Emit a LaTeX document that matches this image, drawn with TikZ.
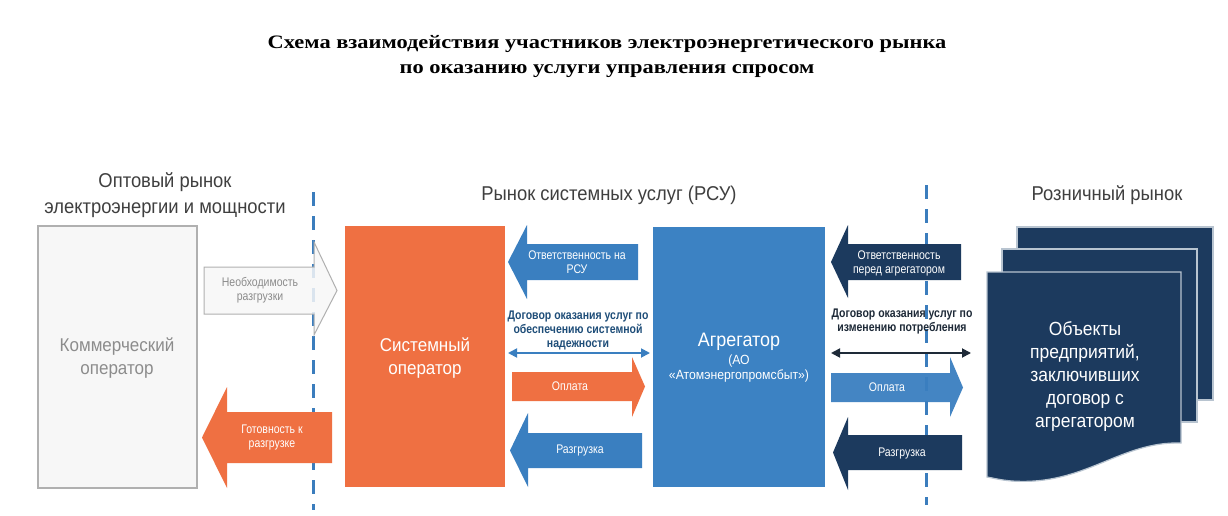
\documentclass[tikz,border=0pt]{standalone}
\usepackage{fontspec}
\setmainfont{Liberation Sans}
\newfontfamily\narrowfont[FakeStretch=0.84]{Liberation Sans}
\newfontfamily\midfont[FakeStretch=0.92]{Liberation Sans}
\newfontfamily\titlefont[FakeStretch=1.18]{Liberation Serif}
\usetikzlibrary{arrows.meta}
\definecolor{orng}{HTML}{EF7042}
\definecolor{bluebox}{HTML}{3C82C3}
\definecolor{bluearr}{HTML}{3A7FC0}
\definecolor{navy}{HTML}{1C3A5E}
\definecolor{dashblue}{HTML}{3B7DBD}
\definecolor{headgray}{HTML}{3F3F3F}
\definecolor{kogray}{HTML}{8C8C8C}
\definecolor{kofill}{HTML}{F7F7F7}
\definecolor{koline}{HTML}{B0B0B0}
\definecolor{docline}{HTML}{B8C4D0}
\definecolor{dogblue}{HTML}{1F4E79}
\definecolor{dognavy}{HTML}{1E2A38}
\tikzset{
  lbl/.style={font=\narrowfont\fontsize{12.5}{14}\selectfont, align=center, text=white, inner sep=0pt},
  head/.style={font=\midfont\fontsize{20}{26}\selectfont, align=center, text=headgray, inner sep=0pt},
  boxtxt/.style={font=\midfont\fontsize{18.5}{23}\selectfont, align=center, text=white, inner sep=0pt},
  dogtxt/.style={font=\narrowfont\bfseries\fontsize{12.5}{14}\selectfont, align=center, inner sep=0pt},
  sep/.style={draw=dashblue, line width=3pt, dash pattern=on 14pt off 10pt},
  dbl/.style={line width=1.8pt, {Triangle[length=9pt,width=9pt]}-{Triangle[length=9pt,width=9pt]}},
  docshape/.style={fill=navy, draw=docline, line width=1.2pt},
}
\newcommand\barrow[8]{\path[#1] (#2,#5) -- (#3,#5) -- (#3,#7) -- (#4,{(#5+#6)/2}) -- (#3,#8) -- (#3,#6) -- (#2,#6) -- cycle;}
\begin{document}
\begin{tikzpicture}[x=1pt,y=-1pt]
\useasboundingbox[fill=white] (0,0) rectangle (1228,516);
% title
\node[font=\titlefont\bfseries\fontsize{19}{25}\selectfont, align=center, inner sep=0pt] (title) at (607,57)
  {Схема взаимодействия участников электроэнергетического рынка\\по оказанию услуги управления спросом};
% headings
\node[head] (hopt) at (165,195) {Оптовый рынок\\электроэнергии и мощности};
\node[head] (hrsu) at (609,195) {Рынок системных услуг (РСУ)};
\node[head] (hroz) at (1107,195) {Розничный рынок};
% separators
\coordinate (s1a) at (313,192); \coordinate (s1b) at (313,510);
\coordinate (s2a) at (926,185); \coordinate (s2b) at (926,505);
\draw[sep] (s1a) -- (s1b);
\draw[sep] (s2a) -- (s2b);
% boxes
\fill[kofill] (38,226) rectangle (197,488);
\draw[koline, line width=1.2pt] (38,226) rectangle (197,488);
\node[boxtxt, text=kogray] (ko) at (117,358) {Коммерческий\\оператор};
\fill[orng] (345,226) rectangle (505,487);
\node[boxtxt] (so) at (425,358) {Системный\\оператор};
\fill[bluebox] (653,227) rectangle (825,487);
\node[font=\midfont\fontsize{19.5}{22}\selectfont, text=white, inner sep=0pt] (agg) at (739,342) {Агрегатор};
\node[font=\midfont\fontsize{13.3}{15}\selectfont, text=white, inner sep=0pt, align=center] (aggsub) at (739,369) {(АО\\«Атомэнергопромсбыт»)};
% documents
\path[docshape] (1017,227) rectangle (1213,400);
\path[docshape] (1002,249) rectangle (1197,422);
\path[docshape] (987,272) -- (1181,272) -- (1181,443) .. controls (1120,441) and (1085,486) .. (1012,481) .. controls (1000,480) and (993,478) .. (987,477) -- cycle;
\node[font=\midfont\fontsize{19}{23}\selectfont, text=white, align=center, inner sep=0pt] (obj) at (1085,377)
  {Объекты\\предприятий,\\заключивших\\договор с\\агрегатором};
% block arrows
\barrow{fill=kofill, draw=koline, line width=1pt, fill opacity=0.85}{204}{314}{337}{267}{314}{242}{335}
\node[lbl, text=kogray] (a1) at (260,290) {Необходимость\\разгрузки};
\barrow{fill=orng}{332}{227}{202}{412}{463}{387}{488}
\node[lbl] (a2) at (272,437) {Готовность к\\разгрузке};
\barrow{fill=bluearr}{638}{527}{508}{244}{280}{225}{299}
\node[lbl] (a3) at (577,262) {Ответственность на\\РСУ};
\barrow{fill=orng}{512}{632}{645}{372}{401}{357}{417}
\node[lbl] (a4) at (570,386) {Оплата};
\barrow{fill=bluearr}{642}{528}{510}{433}{468}{413}{487}
\node[lbl] (a5) at (580,450) {Разгрузка};
\barrow{fill=navy}{961}{848}{831}{244}{280}{225}{298}
\node[lbl] (a6) at (899,263) {Ответственность\\перед агрегатором};
\barrow{fill=bluearr, fill opacity=0.95}{831}{950}{963}{373}{402}{357}{417}
\node[lbl] (a7) at (887,387) {Оплата};
\barrow{fill=navy}{962}{848}{833}{435}{470}{417}{490}
\node[lbl] (a8) at (902,453) {Разгрузка};
% contracts
\node[dogtxt, text=dogblue] (d1) at (578,330) {Договор оказания услуг по\\обеспечению системной\\надежности};
\coordinate (d1l) at (508,353); \coordinate (d1r) at (650,353);
\draw[dbl, draw=bluearr] (d1l) -- (d1r);
\node[dogtxt, text=dognavy] (d2) at (902,321) {Договор оказания услуг по\\изменению потребления};
\coordinate (d2l) at (831,353); \coordinate (d2r) at (971,353);
\draw[dbl, draw=dognavy] (d2l) -- (d2r);
\end{tikzpicture}
\end{document}
